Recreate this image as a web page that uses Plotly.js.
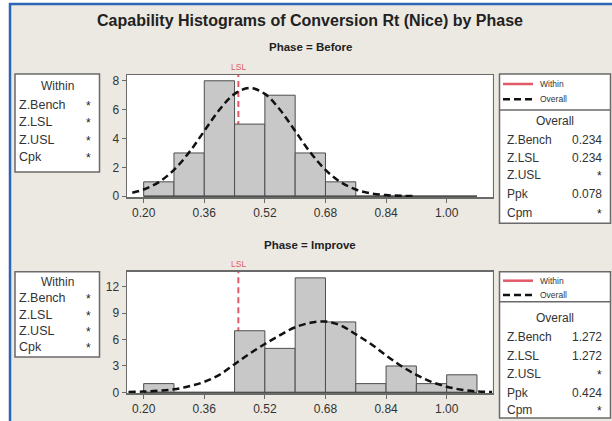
<!DOCTYPE html>
<html>
<head>
<meta charset="utf-8">
<script src="https://cdn.plot.ly/plotly-3.0.1.min.js"></script>
<style>
html,body{margin:0;padding:0;background:#fff;}
#chart{width:612px;height:421px;}
</style>
</head>
<body>
<div id="chart"></div>
<script>
// ---------- data ----------
const binStarts = [0.20, 0.28, 0.36, 0.44, 0.52, 0.60, 0.68, 0.76, 0.84, 0.92, 1.00];
const binWidth = 0.08;
const beforeCounts  = [1, 3, 8, 5, 7, 3, 1, 0, 0, 0, 0];
const improveCounts = [1, 0, 0, 7, 5, 13, 8, 1, 3, 1, 2];

const beforeCurveX = [0.17, 0.20, 0.24, 0.28, 0.32, 0.36, 0.40, 0.44, 0.48, 0.52, 0.56, 0.60, 0.64, 0.68, 0.72, 0.76, 0.80, 0.84, 0.88, 0.92];
const beforeCurveY = [0.25, 0.47, 0.98, 1.83, 3.04, 4.52, 5.99, 7.09, 7.50, 7.09, 5.99, 4.52, 3.04, 1.83, 0.98, 0.47, 0.20, 0.08, 0.03, 0.01];

const improveCurveX = [0.16, 0.20, 0.24, 0.28, 0.32, 0.36, 0.40, 0.44, 0.48, 0.52, 0.56, 0.60, 0.64, 0.68, 0.72, 0.76, 0.80, 0.84, 0.88, 0.92, 0.96, 1.00, 1.04, 1.08, 1.12];
const improveCurveY = [0.05, 0.10, 0.20, 0.35, 0.70, 1.20, 2.00, 3.20, 4.40, 5.50, 6.50, 7.40, 7.90, 8.05, 7.60, 6.60, 5.50, 4.20, 3.00, 2.00, 1.20, 0.65, 0.30, 0.12, 0.04];

const LSL = 0.45;

const xTickVals = [0.20, 0.36, 0.52, 0.68, 0.84, 1.00];
const xTickText = ["0.20", "0.36", "0.52", "0.68", "0.84", "1.00"];
const beforeYTicks  = [0, 2, 4, 6, 8];
const improveYTicks = [0, 3, 6, 9, 12];

const withinLabels  = ["Z.Bench", "Z.LSL", "Z.USL", "Cpk"];
const withinBefore  = ["*", "*", "*", "*"];
const withinImprove = ["*", "*", "*", "*"];
const overallLabels  = ["Z.Bench", "Z.LSL", "Z.USL", "Ppk", "Cpm"];
const overallBefore  = ["0.234", "0.234", "*", "0.078", "*"];
const overallImprove = ["1.272", "1.272", "*", "0.424", "*"];

const chartTitle = "Capability Histograms of Conversion Rt (Nice) by Phase";
const phaseTitles = ["Phase = Before", "Phase = Improve"];

// ---------- helpers ----------
const W = 612, H = 421;
const px = x => x / W;
const py = y => 1 - y / H;
const FONT = "Liberation Sans, Arial, sans-serif";
const TXT = "#333333";
const FRAME = "#6a6a6a";
const RED = "#E25A68";

const binCenters = binStarts.map(s => s + binWidth / 2);
const baseX = [binStarts[0], binStarts[binStarts.length - 1] + binWidth];

function barTrace(counts, xa, ya) {
  return {type: "bar", x: binCenters, y: counts, width: binWidth, xaxis: xa, yaxis: ya,
    marker: {color: "#C8C8C8", line: {color: "#4e4e4e", width: 1}}, hoverinfo: "skip"};
}
function baseTrace(xa, ya) {
  return {type: "scatter", mode: "lines", x: baseX, y: [0, 0], xaxis: xa, yaxis: ya,
    line: {color: "#4e4e4e", width: 1.5}, hoverinfo: "skip"};
}
function curveTrace(cx, cy, xa, ya) {
  return {type: "scatter", mode: "lines", x: cx, y: cy, xaxis: xa, yaxis: ya, line: {color: "#111111", width: 2.5, dash: "7px,4px", shape: "spline"}, hoverinfo: "skip"};
}

const data = [
  barTrace(beforeCounts, "x", "y"), baseTrace("x", "y"), curveTrace(beforeCurveX, beforeCurveY, "x", "y"),
  barTrace(improveCounts, "x2", "y2"), baseTrace("x2", "y2"), curveTrace(improveCurveX, improveCurveY, "x2", "y2")
];

const xCommon = {range: [0.156, 1.121], tickvals: xTickVals, ticktext: xTickText, showline: true, mirror: true,
  linecolor: FRAME, linewidth: 1.5, ticks: "outside", ticklen: 4, tickcolor: FRAME, showgrid: false, zeroline: false,
  tickfont: {family: FONT, size: 12, color: TXT}, fixedrange: true};
const yCommon = {showline: true, mirror: true, linecolor: FRAME, linewidth: 1.5, ticks: "outside", ticklen: 4,
  tickcolor: FRAME, showgrid: false, zeroline: false, tickfont: {family: FONT, size: 12, color: TXT}, fixedrange: true};

const shapes = [];
const annotations = [];

// outer window frame
shapes.push({type: "rect", xref: "paper", yref: "paper", x0: 0, x1: px(9), y0: 0, y1: 1, fillcolor: "#ffffff", line: {width: 0}});
shapes.push({type: "rect", xref: "paper", yref: "paper", x0: 0, x1: 1, y0: py(3), y1: 1, fillcolor: "#ffffff", line: {width: 0}});
shapes.push({type: "line", xref: "paper", yref: "paper", x0: px(10), x1: px(10), y0: 0, y1: py(3), line: {color: "#2B65B3", width: 2.5}});
shapes.push({type: "line", xref: "paper", yref: "paper", x0: px(9), x1: 1, y0: py(4), y1: py(4), line: {color: "#2B65B3", width: 2.5}});

// LSL lines
[["x", "y domain"], ["x2", "y2 domain"]].forEach(([xr, yr]) => {
  shapes.push({type: "line", xref: xr, yref: yr, x0: LSL, x1: LSL, y0: 0, y1: 1, layer: "below",
    line: {color: RED, width: 2, dash: "6px,4px"}});
});
annotations.push({xref: "x", yref: "paper", x: LSL, y: py(67), text: "LSL", showarrow: false, xanchor: "center", yanchor: "middle", font: {family: FONT, size: 8.5, color: RED}});
annotations.push({xref: "x2", yref: "paper", x: LSL, y: py(264), text: "LSL", showarrow: false, xanchor: "center", yanchor: "middle", font: {family: FONT, size: 8.5, color: RED}});

// phase titles
annotations.push({xref: "paper", yref: "paper", x: px(310), y: py(47), text: "<b>" + phaseTitles[0] + "</b>", showarrow: false, xanchor: "center", yanchor: "middle", font: {family: FONT, size: 11.5, color: "#222"}});
annotations.push({xref: "paper", yref: "paper", x: px(310), y: py(245), text: "<b>" + phaseTitles[1] + "</b>", showarrow: false, xanchor: "center", yanchor: "middle", font: {family: FONT, size: 11.5, color: "#222"}});

function txt(x, y, t, anchor, size, color) {
  annotations.push({xref: "paper", yref: "paper", x: px(x), y: py(y), text: t, showarrow: false,
    xanchor: anchor, yanchor: "middle", font: {family: FONT, size: size || 11, color: color || TXT}});
}
function box(x0, y0, x1, y1) {
  shapes.push({type: "rect", xref: "paper", yref: "paper", x0: px(x0), x1: px(x1), y0: py(y1), y1: py(y0),
    fillcolor: "#ffffff", line: {color: FRAME, width: 1.5}});
}

// Within boxes
function withinBox(top, bottom, headerY, rowsY, vals) {
  box(15, top, 99.5, bottom);
  txt(57, headerY, "Within", "center", 12);
  withinLabels.forEach((l, i) => { txt(17, rowsY[i], l, "left", 12.5); txt(88, rowsY[i] + 1, vals[i], "center", 12, "#222"); });
}
withinBox(74, 172, 86, [104.5, 122, 140, 157], withinBefore);
withinBox(271.7, 357, 281.5, [298, 314.5, 331, 346.5], withinImprove);

// Overall boxes with legend
function overallBox(top, sep, bottom, legY, headerY, rowsY, vals) {
  box(499.5, top, 610.5, bottom);
  shapes.push({type: "line", xref: "paper", yref: "paper", x0: px(499.5), x1: px(610.5), y0: py(sep), y1: py(sep), line: {color: FRAME, width: 1.5}});
  shapes.push({type: "line", xref: "paper", yref: "paper", x0: px(503), x1: px(533), y0: py(legY[0]), y1: py(legY[0]), line: {color: RED, width: 2.5}});
  shapes.push({type: "line", xref: "paper", yref: "paper", x0: px(503), x1: px(533), y0: py(legY[1]), y1: py(legY[1]), line: {color: "#111", width: 2.5, dash: "7px,4px"}});
  txt(538, legY[0], "Within", "left", 8.5);
  txt(538, legY[1], "Overall", "left", 8.5);
  txt(555, headerY, "Overall", "center", 12);
  overallLabels.forEach((l, i) => { txt(505, rowsY[i], l, "left", 12); txt(604, rowsY[i] + (vals[i] === "*" ? 1 : 0), vals[i], "right", 12, vals[i] === "*" ? "#222" : TXT); });
}
overallBox(74, 110, 223.3, [84, 99.3], 121, [140, 157.5, 175, 194, 212.5], overallBefore);
overallBox(271.7, 301.7, 418, [280.7, 295], 318.3, [337.3, 356, 373.5, 392.7, 409.5], overallImprove);

const layout = {
  width: W, height: H,
  margin: {l: 0, r: 0, t: 0, b: 0},
  paper_bgcolor: "#ECE9E2",
  plot_bgcolor: "#ffffff",
  showlegend: false,
  bargap: 0,
  title: {text: "<b>" + chartTitle + "</b>", x: px(310), xref: "paper", xanchor: "center", y: py(20), yref: "container", yanchor: "middle",
    font: {family: FONT, size: 16, color: "#222"}},
  xaxis: Object.assign({}, xCommon, {domain: [px(127), px(492.5)], anchor: "y"}),
  yaxis: Object.assign({}, yCommon, {domain: [py(197), py(75)], range: [-0.05, 8.4], tickvals: beforeYTicks, anchor: "x"}),
  xaxis2: Object.assign({}, xCommon, {domain: [px(127), px(492.5)], anchor: "y2"}),
  yaxis2: Object.assign({}, yCommon, {domain: [py(393.3), py(271.7)], range: [-0.1, 13.7], tickvals: improveYTicks, anchor: "x2"}),
  shapes: shapes,
  annotations: annotations
};

Plotly.newPlot("chart", data, layout, {displayModeBar: false, staticPlot: true});
</script>
</body>
</html>
